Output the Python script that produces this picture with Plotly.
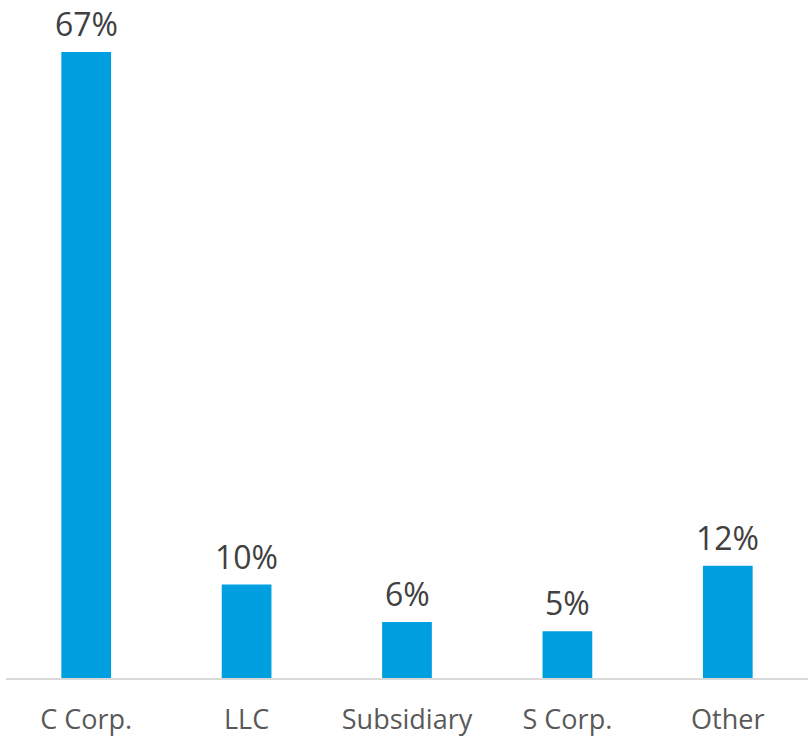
import plotly.graph_objects as go

categories = ["C Corp.", "LLC", "Subsidiary", "S Corp.", "Other"]
shares = [67, 10, 6, 5, 12]
labels = [f"{v}%" for v in shares]

bar_color = "#009FDF"

fig = go.Figure(
    go.Bar(
        x=categories,
        y=shares,
        marker=dict(color=bar_color, line=dict(width=0)),
        width=0.31,
        hoverinfo="skip",
    )
)

# value labels above each bar
for cat, val, lab in zip(categories, shares, labels):
    fig.add_annotation(
        x=cat, y=val, text=lab, showarrow=False,
        yanchor="bottom", yshift=6, borderpad=0,
        font=dict(family="Open Sans", size=32, color="#404040"),
    )

fig.update_layout(
    width=808, height=738,
    margin=dict(l=6, r=0, t=10, b=60),
    paper_bgcolor="white", plot_bgcolor="white",
    showlegend=False,
    xaxis=dict(
        showline=True, linecolor="#D9D9D9", linewidth=2,
        showgrid=False, ticks="", ticklabelstandoff=17,
        tickfont=dict(family="Open Sans", size=27, color="#595959"),
    ),
    yaxis=dict(
        range=[0, 71.49], visible=False, showgrid=False, zeroline=False,
    ),
)

fig.write_html("out.html")
